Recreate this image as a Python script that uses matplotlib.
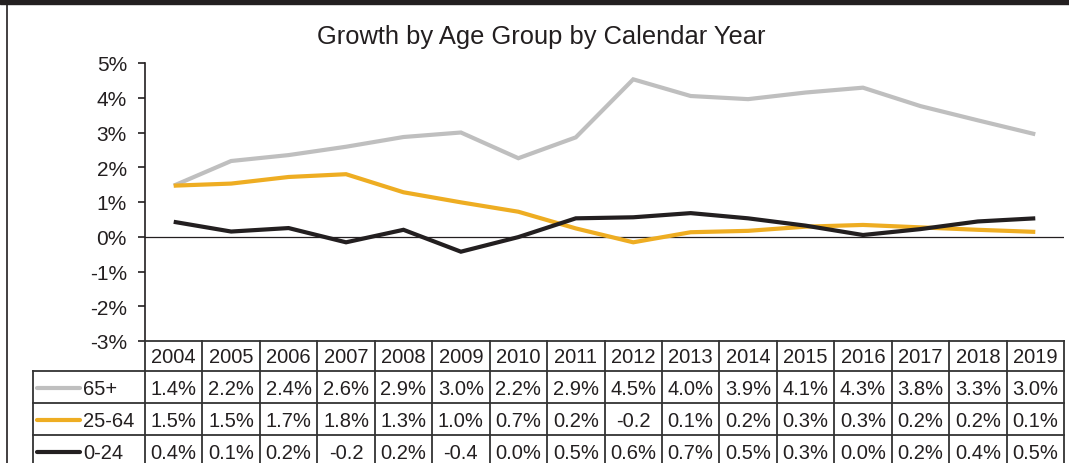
import matplotlib
matplotlib.use("Agg")
import matplotlib.pyplot as plt
from matplotlib.lines import Line2D
from matplotlib.patches import Rectangle

plt.rcParams['font.family'] = ['Liberation Sans', 'DejaVu Sans']

years = ['2004', '2005', '2006', '2007', '2008', '2009', '2010', '2011',
         '2012', '2013', '2014', '2015', '2016', '2017', '2018', '2019']
series_names = ['65+', '25-64', '0-24']
vals_65 = [1.47, 2.18, 2.35, 2.59, 2.87, 3.00, 2.26, 2.86,
           4.53, 4.05, 3.96, 4.15, 4.29, 3.76, 3.35, 2.95]
vals_25_64 = [1.47, 1.53, 1.72, 1.80, 1.28, 0.99, 0.72, 0.24,
              -0.16, 0.13, 0.17, 0.29, 0.34, 0.27, 0.20, 0.14]
vals_0_24 = [0.43, 0.15, 0.25, -0.16, 0.20, -0.43, -0.01, 0.53,
             0.56, 0.68, 0.53, 0.32, 0.05, 0.22, 0.44, 0.53]
table_65 = ['1.4%', '2.2%', '2.4%', '2.6%', '2.9%', '3.0%', '2.2%', '2.9%',
            '4.5%', '4.0%', '3.9%', '4.1%', '4.3%', '3.8%', '3.3%', '3.0%']
table_25_64 = ['1.5%', '1.5%', '1.7%', '1.8%', '1.3%', '1.0%', '0.7%', '0.2%',
               '-0.2', '0.1%', '0.2%', '0.3%', '0.3%', '0.2%', '0.2%', '0.1%']
table_0_24 = ['0.4%', '0.1%', '0.2%', '-0.2', '0.2%', '-0.4', '0.0%', '0.5%',
              '0.6%', '0.7%', '0.5%', '0.3%', '0.0%', '0.2%', '0.4%', '0.5%']
y_ticks = [-3, -2, -1, 0, 1, 2, 3, 4, 5]
y_tick_labels = ['-3%', '-2%', '-1%', '0%', '1%', '2%', '3%', '4%', '5%']

colors = ['#BFBFBF', '#EEAD22', '#231F20']
series_vals = [vals_65, vals_25_64, vals_0_24]
table_rows = [table_65, table_25_64, table_0_24]
dark = '#231F20'

W, H = 1069, 464
fig = plt.figure(figsize=(W / 100, H / 100), dpi=100)

# plot area
x0, x1 = 145, 1064
ytop, ybot = 64, 342
ax = fig.add_axes([x0 / W, 1 - ybot / H, (x1 - x0) / W, (ybot - ytop) / H])
xs = list(range(len(years)))
for vals, c in zip(series_vals, colors):
    ax.plot(xs, vals, color=c, lw=3.0, solid_joinstyle='miter', solid_capstyle='butt', zorder=3)
ax.axhline(0, color=dark, lw=0.9, zorder=2)
ax.set_xlim(-0.5, len(years) - 0.5)
ax.set_ylim(-3, 5)
ax.set_yticks(y_ticks)
ax.set_yticklabels(y_tick_labels, fontsize=15, color=dark)
ax.set_xticks([])
for s in ['top', 'right', 'bottom']:
    ax.spines[s].set_visible(False)
ax.spines['left'].set_color(dark)
ax.spines['left'].set_linewidth(1.2)
ax.tick_params(axis='y', direction='out', length=5, width=1.2, color=dark, pad=8)

# title
fig.text(541 / W, 1 - 37 / H, 'Growth by Age Group by Calendar Year', ha='center', va='center',
         fontsize=18.4, color=dark)

# table axes (x in data columns, y in pixels downward from 342)
tax = fig.add_axes([x0 / W, 0, (x1 - x0) / W, (H - ybot) / H])
tax.set_xlim(-0.5, len(years) - 0.5)
tax.set_ylim(H - ybot, 0)
tax.axis('off')
colw = (x1 - x0) / len(years)
label_left = -0.5 - (x0 - 33) / colw
row_edges = [0, 30, 62, 94, 126]
lkw = dict(color='#333333', lw=1.3, clip_on=False, solid_capstyle='projecting')
# horizontal lines
tax.add_line(Line2D([-0.5, len(years) - 0.5], [row_edges[0]] * 2, **lkw))
for e in row_edges[1:]:
    tax.add_line(Line2D([label_left, len(years) - 0.5], [e] * 2, **lkw))
# vertical lines
for i in range(len(years) + 1):
    tax.add_line(Line2D([i - 0.5] * 2, [0, row_edges[-1]], **lkw))
tax.add_line(Line2D([label_left] * 2, [row_edges[1], row_edges[-1]], **lkw))

for i, yr in enumerate(years):
    tax.text(i, (row_edges[0] + row_edges[1]) / 2 + 1, yr, ha='center', va='center',
             fontsize=14.5, color=dark, clip_on=False)
for r, (name, row, c) in enumerate(zip(series_names, table_rows, colors)):
    yc = (row_edges[r + 1] + row_edges[r + 2]) / 2 + 1.5
    for i, t in enumerate(row):
        tax.text(i, yc, t, ha='center', va='center', fontsize=14.5, color=dark, clip_on=False)
    lx0 = label_left + (37.5 - 33) / colw
    lx1 = label_left + (80 - 33) / colw
    tax.add_line(Line2D([lx0, lx1], [yc - 1, yc - 1], color=c, lw=3.0, solid_capstyle='round',
                        clip_on=False))
    tax.text(label_left + (83 - 33) / colw, yc, name, ha='left', va='center',
             fontsize=14.5, color=dark, clip_on=False)

# frame decorations
fig.patches.append(Rectangle((0, 1 - 5 / H), 1, 5 / H, transform=fig.transFigure,
                             color=dark, zorder=10))
fig.add_artist(Line2D([6.5 / W, 6.5 / W], [0, 1 - 5 / H], transform=fig.transFigure,
                      color=dark, lw=1.2))

fig.savefig('out.png', dpi=100)
